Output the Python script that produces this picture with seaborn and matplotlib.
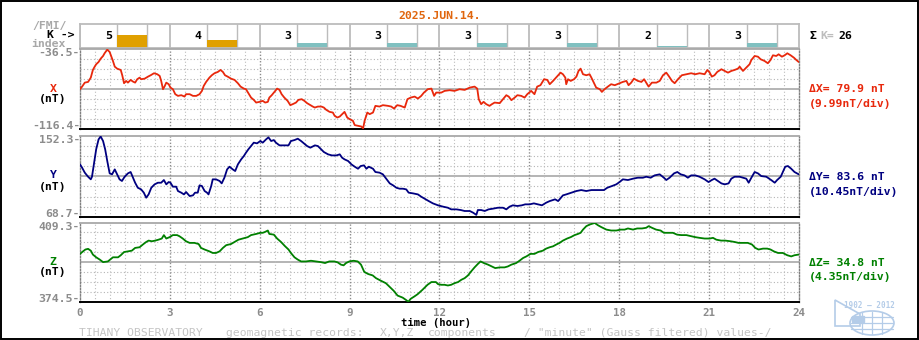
import numpy as np
import pandas as pd
import matplotlib
matplotlib.use("Agg")
import matplotlib.pyplot as plt
import seaborn as sns
from matplotlib import patches

# ---------------- data ----------------
K_VALUES = [5, 4, 3, 3, 3, 3, 2, 3]
K_SUM = 26
HOUR_TICKS = [0, 3, 6, 9, 12, 15, 18, 21, 24]

X_RANGE = (-116.4, -36.5)
Y_RANGE = (68.7, 152.3)
Z_RANGE = (374.5, 409.3)

X_HOURS = [0.00, 0.07, 0.16, 0.27, 0.36, 0.43, 0.49, 0.54, 0.62, 0.69,
           0.77, 0.82, 0.91, 0.99, 1.04, 1.10, 1.16, 1.24, 1.36, 1.41,
           1.47, 1.54, 1.60, 1.69, 1.77, 1.84, 1.91, 1.99, 2.04, 2.16,
           2.27, 2.36, 2.47, 2.58, 2.66, 2.71, 2.77, 2.82, 2.88, 2.96,
           3.02, 3.10, 3.18, 3.27, 3.38, 3.49, 3.54, 3.66, 3.77, 3.88,
           3.99, 4.07, 4.13, 4.21, 4.32, 4.40, 4.49, 4.60, 4.69, 4.77,
           4.84, 4.93, 5.04, 5.16, 5.27, 5.36, 5.47, 5.54, 5.62, 5.71,
           5.80, 5.88, 5.99, 6.10, 6.18, 6.27, 6.32, 6.40, 6.49, 6.58,
           6.66, 6.73, 6.82, 6.93, 7.02, 7.10, 7.21, 7.29, 7.40, 7.49,
           7.58, 7.69, 7.77, 7.84,
           7.94, 8.06, 8.14, 8.22, 8.33, 8.44, 8.50, 8.59, 8.67, 8.75,
           8.83, 8.92, 9.00, 9.11, 9.17, 9.28, 9.39, 9.45, 9.50, 9.59,
           9.67, 9.78, 9.86, 10.00, 10.11, 10.28, 10.39, 10.48, 10.59, 10.70,
           10.84, 10.93, 11.04, 11.17, 11.28, 11.39, 11.48, 11.61, 11.73, 11.82,
           11.89, 12.06, 12.17, 12.34, 12.50, 12.67, 12.84, 13.01, 13.17, 13.26,
           13.31, 13.39, 13.47, 13.56, 13.67, 13.75, 13.84, 14.01, 14.12, 14.23,
           14.31, 14.40, 14.51, 14.60, 14.73, 14.84, 14.93, 15.06, 15.17, 15.26,
           15.37, 15.49, 15.60, 15.68, 15.79, 15.86,
           15.96, 16.04, 16.12, 16.20, 16.23, 16.29, 16.38, 16.49, 16.57, 16.64,
           16.71, 16.79, 16.90, 17.01, 17.07, 17.16, 17.23, 17.35, 17.42, 17.51,
           17.62, 17.73, 17.85, 18.01, 18.12, 18.24, 18.31, 18.40, 18.49, 18.62,
           18.74, 18.83, 18.90, 18.98, 19.09, 19.24, 19.35, 19.46, 19.57, 19.65,
           19.76, 19.85, 19.96, 20.09, 20.24, 20.40, 20.54, 20.68, 20.85, 20.94,
           21.02, 21.09, 21.18, 21.27, 21.41, 21.52, 21.63, 21.74, 21.85, 21.96,
           22.02, 22.13, 22.24, 22.35, 22.41, 22.52, 22.63, 22.72, 22.85, 22.96,
           23.05, 23.13, 23.24, 23.32, 23.43, 23.52, 23.61, 23.72, 23.83, 23.91,
           23.99]
X_NT = [-76.5, -73.9, -69.9, -69.2, -64.9, -57.2, -53.9, -51.5, -49.2, -45.9,
        -43.2, -40.5, -36.8, -39.2, -43.2, -48.2, -53.9, -55.9, -57.2, -62.5,
        -70.5, -68.2, -69.9, -67.2, -68.9, -69.9, -66.5, -64.9, -66.5, -65.9,
        -63.9, -62.5, -60.5, -61.5, -63.2, -68.2, -76.5, -73.9, -69.9, -71.5,
        -74.9, -76.5, -81.5, -83.2, -82.5, -83.9, -81.5, -81.5, -83.2, -83.2,
        -81.5, -78.2, -73.2, -69.2, -64.9, -62.5, -60.5, -59.2, -57.2, -59.2,
        -62.5, -63.9, -65.9, -67.2, -70.5, -73.9, -75.9, -76.5, -80.5, -84.9,
        -87.2, -89.9, -89.2, -88.2, -89.9, -89.2, -84.9, -82.5, -79.2, -75.9,
        -77.2, -81.5, -84.9, -88.2, -92.5, -91.5, -89.9, -87.2, -86.5, -88.2,
        -90.5, -92.5, -93.9, -94.9,
        -93.9, -93.9, -94.9, -97.2, -99.2, -99.9, -103.2, -104.9, -103.9, -101.5,
        -99.2, -104.9, -106.5, -108.2, -112.5, -113.2, -113.9, -115.8, -108.2, -99.9,
        -101.5, -99.9, -93.2, -93.9, -92.5, -93.2, -93.9, -95.9, -92.5, -93.2,
        -94.9, -86.5, -84.9, -83.9, -85.9, -83.2, -79.9, -76.5, -75.9, -83.2,
        -79.9, -79.9, -78.2, -77.5, -78.2, -76.5, -77.2, -74.9, -73.9, -75.9,
        -86.5, -91.5, -89.2, -91.5, -93.2, -91.5, -89.9, -90.5, -86.5, -82.5,
        -83.9, -87.5, -84.9, -82.5, -83.2, -84.9, -81.5, -78.2, -81.5, -73.9,
        -72.5, -66.5, -67.2, -71.5, -68.2, -65.9,
        -62.5, -59.9, -61.5, -64.9, -71.5, -66.5, -68.2, -66.5, -63.9, -58.2,
        -55.9, -61.5, -62.5, -61.5, -64.9, -70.5, -74.9, -76.5, -79.2, -76.5,
        -73.9, -71.5, -72.5, -70.5, -69.2, -68.2, -72.5, -69.9, -65.9, -68.2,
        -69.2, -66.5, -69.9, -73.9, -69.9, -69.9, -68.2, -62.5, -59.9, -63.2,
        -68.2, -70.5, -66.5, -62.5, -61.5, -60.5, -61.5, -60.5, -61.5, -57.2,
        -59.9, -63.9, -62.5, -59.2, -56.5, -58.2, -59.9, -58.2, -57.2, -55.9,
        -53.9, -58.2, -54.9, -51.5, -47.2, -43.2, -43.9, -46.5, -48.2, -50.5,
        -47.2, -42.5, -43.2, -41.5, -43.9, -42.5, -40.5, -42.5, -44.9, -47.2,
        -49.2]

Y_HOURS = [0.00, 0.07, 0.16, 0.27, 0.36, 0.40, 0.47, 0.54, 0.62, 0.69,
           0.77, 0.84, 0.91, 0.99, 1.07, 1.16, 1.24, 1.32, 1.40, 1.49,
           1.60, 1.69, 1.77, 1.84, 1.93, 2.04, 2.13, 2.21, 2.29, 2.38,
           2.49, 2.60, 2.71, 2.80, 2.88, 2.96, 3.02, 3.10, 3.21, 3.27,
           3.38, 3.47, 3.54, 3.66, 3.77, 3.84, 3.93, 3.99, 4.07, 4.16,
           4.24, 4.29, 4.38, 4.43, 4.54, 4.66, 4.73, 4.82, 4.91, 4.99,
           5.10, 5.18, 5.27, 5.38, 5.47, 5.54, 5.62, 5.71, 5.80, 5.91,
           6.02, 6.10, 6.21, 6.29, 6.38, 6.47, 6.54, 6.66, 6.82, 6.96,
           7.04, 7.16, 7.27, 7.38, 7.47, 7.58, 7.69, 7.84,
           7.94, 8.03, 8.14, 8.28, 8.41, 8.56, 8.67, 8.75, 8.83, 8.95,
           9.06, 9.17, 9.28, 9.37, 9.48, 9.56, 9.64, 9.78, 9.86, 10.00,
           10.11, 10.22, 10.34, 10.45, 10.56, 10.67, 10.78, 10.89, 10.97, 11.11,
           11.28, 11.39, 11.50, 11.64, 11.78, 11.95, 12.12, 12.28, 12.39, 12.56,
           12.71, 12.84, 13.01, 13.12, 13.23, 13.28, 13.39, 13.51, 13.64, 13.78,
           13.95, 14.12, 14.23, 14.34, 14.45, 14.60, 14.75, 14.86, 15.01, 15.15,
           15.29, 15.42, 15.56, 15.68, 15.79, 15.86,
           15.96, 16.01, 16.12, 16.23, 16.40, 16.57, 16.73, 16.90, 17.07, 17.29,
           17.49, 17.60, 17.76, 17.90, 18.01, 18.12, 18.29, 18.46, 18.62, 18.79,
           18.90, 19.05, 19.18, 19.35, 19.49, 19.57, 19.68, 19.83, 19.94, 20.05,
           20.18, 20.29, 20.40, 20.54, 20.68, 20.85, 20.98, 21.09, 21.18, 21.29,
           21.41, 21.52, 21.65, 21.74, 21.85, 22.02, 22.13, 22.24, 22.32, 22.41,
           22.52, 22.63, 22.74, 22.91, 23.07, 23.19, 23.27, 23.39, 23.46, 23.54,
           23.63, 23.74, 23.85, 23.99]
Y_NT = [122.9, 119.5, 114.3, 110.1, 107.4, 110.1, 124.6, 138.5, 148.8, 151.8,
        147.1, 138.5, 126.4, 113.6, 112.6, 117.7, 112.6, 107.4, 105.7, 110.1,
        113.6, 115.0, 109.1, 103.9, 98.7, 97.0, 93.6, 88.4, 91.8, 98.7,
        102.2, 103.9, 103.9, 106.7, 102.2, 104.6, 103.9, 99.8, 99.8, 95.3,
        93.6, 91.8, 94.3, 90.1, 90.8, 93.6, 93.6, 101.2, 100.5, 95.3,
        93.6, 91.8, 100.5, 107.4, 107.4, 105.7, 103.2, 109.1, 117.7, 120.5,
        117.7, 116.0, 122.9, 128.1, 131.6, 135.0, 138.5, 141.9, 145.4, 144.7,
        147.1, 145.4, 148.8, 150.9, 147.1, 148.1, 145.4, 142.6, 142.6, 142.6,
        147.1, 148.1, 149.5, 147.1, 144.7, 141.9, 140.2, 142.6,
        141.9, 139.1, 135.7, 133.3, 132.2, 132.2, 133.3, 129.8, 128.1, 126.4,
        122.9, 120.5, 118.4, 121.2, 121.9, 118.4, 120.5, 118.4, 115.0, 114.3,
        112.6, 108.1, 103.2, 101.2, 98.7, 97.7, 97.7, 97.0, 93.6, 92.9,
        91.8, 89.4, 87.4, 84.9, 82.5, 80.5, 79.1, 78.0, 76.3, 76.3,
        75.6, 74.6, 74.6, 72.9, 70.6, 75.6, 75.6, 74.6, 76.3, 77.0,
        78.0, 78.0, 76.3, 79.1, 80.5, 79.8, 80.5, 81.5, 81.5, 82.5,
        81.5, 80.5, 83.2, 84.9, 86.0, 86.7,
        84.9, 86.7, 90.8, 91.8, 93.6, 95.3, 96.3, 95.3, 96.3, 96.3,
        96.3, 98.7, 100.5, 102.2, 104.6, 107.4, 106.7, 108.1, 109.1, 109.1,
        110.1, 109.1, 111.5, 112.6, 109.1, 106.7, 109.1, 113.6, 115.0, 112.6,
        111.5, 109.1, 111.5, 111.5, 110.1, 107.4, 104.6, 106.7, 108.1, 105.7,
        103.2, 102.2, 103.2, 108.1, 110.1, 110.1, 109.1, 108.1, 103.9, 109.1,
        115.0, 113.6, 110.8, 110.1, 106.7, 103.9, 106.7, 110.1, 115.0, 120.5,
        121.2, 118.4, 115.0, 112.6]

Z_HOURS = [0.00, 0.10, 0.18, 0.27, 0.36, 0.43, 0.54, 0.66, 0.77, 0.93,
           1.04, 1.10, 1.27, 1.36, 1.47, 1.60, 1.73, 1.84, 1.99, 2.10,
           2.21, 2.29, 2.40, 2.51, 2.62, 2.73, 2.80, 2.88, 2.99, 3.10,
           3.24, 3.32, 3.43, 3.54, 3.66, 3.82, 3.96, 4.04, 4.16, 4.32,
           4.43, 4.54, 4.66, 4.77, 4.88, 5.04, 5.16, 5.29, 5.43, 5.60,
           5.71, 5.88, 6.02, 6.10, 6.18, 6.27, 6.32, 6.47, 6.58, 6.71,
           6.84, 6.96, 7.04, 7.16, 7.27, 7.38, 7.54, 7.71, 7.88, 8.04,
           8.18, 8.32, 8.49, 8.60, 8.71, 8.80, 8.88, 8.99, 9.13, 9.27,
           9.38, 9.49, 9.62, 9.77, 9.88, 10.04, 10.21, 10.32, 10.47, 10.60,
           10.77, 10.88, 10.96, 11.04, 11.16, 11.27, 11.43, 11.60, 11.73, 11.88,
           11.95, 12.06, 12.17, 12.28, 12.39, 12.50, 12.62, 12.73, 12.84, 12.95,
           13.06, 13.17, 13.28, 13.37, 13.48, 13.62, 13.75, 13.86, 14.01, 14.17,
           14.28, 14.40, 14.56, 14.67, 14.79, 14.90, 15.04, 15.17, 15.29, 15.45,
           15.56, 15.68, 15.79, 15.90, 16.01, 16.12, 16.26, 16.38, 16.51, 16.62,
           16.71, 16.79, 16.90, 17.01, 17.18, 17.29, 17.40, 17.57, 17.73, 17.90,
           18.05, 18.18, 18.29, 18.46, 18.60, 18.76, 18.90, 18.98, 19.09, 19.23,
           19.38, 19.49, 19.62, 19.79, 19.93, 20.07, 20.24, 20.40, 20.54, 20.68,
           20.85, 21.02, 21.13, 21.24, 21.40, 21.54, 21.72, 21.85, 21.98, 22.13,
           22.29, 22.43, 22.54, 22.65, 22.80, 22.94, 23.05, 23.16, 23.30, 23.46,
           23.61, 23.74, 23.85, 23.99]
Z_NT = [395.6, 396.7, 397.5, 397.8, 397.0, 395.3, 394.1, 393.1, 392.0, 392.3,
        393.5, 394.1, 394.1, 395.0, 396.4, 396.7, 397.0, 398.2, 398.5, 399.7,
        400.8, 401.4, 401.1, 401.4, 401.8, 402.3, 403.8, 402.3, 402.9, 403.8,
        403.8, 403.3, 402.3, 401.1, 400.4, 400.4, 399.9, 398.2, 397.5, 396.7,
        396.0, 396.0, 396.7, 398.2, 399.4, 399.9, 400.8, 401.8, 402.3, 402.9,
        403.8, 404.3, 404.8, 404.8, 405.2, 405.8, 404.3, 404.0, 402.3, 400.8,
        399.0, 397.5, 396.0, 394.1, 393.1, 392.3, 392.3, 392.6, 392.3, 392.0,
        391.6, 392.3, 392.3, 391.9, 390.9, 390.6, 391.6, 392.3, 392.6, 392.3,
        390.9, 387.7, 386.8, 386.2, 385.0, 383.9, 382.8, 381.4, 379.5, 377.4,
        376.5, 375.5, 374.7, 376.0, 377.0, 378.0, 379.9, 382.1, 383.3, 383.3,
        382.4, 382.1, 382.1, 381.8, 382.1, 382.8, 383.3, 384.3, 385.0, 386.2,
        388.0, 389.7, 391.2, 392.3, 391.6, 390.9, 390.1, 389.4, 389.7, 389.7,
        390.1, 390.9, 391.6, 392.6, 393.8, 394.5, 395.6, 395.6, 396.4, 397.0,
        397.9, 398.5, 398.9, 399.7, 400.4, 401.4, 402.3, 402.9, 403.8, 404.3,
        404.8, 406.2, 407.7, 408.4, 409.1, 408.1, 407.3, 406.2, 405.8, 405.8,
        406.2, 406.2, 406.7, 406.2, 406.7, 406.7, 407.0, 407.7, 407.0, 406.2,
        405.8, 404.8, 404.8, 404.8, 404.0, 403.8, 403.8, 403.3, 402.9, 402.6,
        402.3, 402.3, 402.6, 401.8, 401.4, 401.4, 401.1, 400.8, 400.4, 400.4,
        400.4, 399.7, 398.2, 397.5, 397.9, 397.9, 397.5, 396.7, 396.0, 396.0,
        395.0, 394.5, 395.0, 395.3]

FOOTER_PARTS = ["TIHANY OBSERVATORY", "geomagnetic records:", "X,Y,Z", "components",
                '/ "minute" (Gauss filtered) values-/']

# ---------------- style ----------------
sns.set_style("white")
plt.rcParams["font.family"] = ["DejaVu Sans Mono", "DejaVu Sans"]
plt.rcParams["font.weight"] = "bold"

RED, NAVY, GREEN = "#e8280c", "#000080", "#008000"
GRID = "#b4b4b4"
TXTGRAY = "#8c8c8c"
FS = 8.25

W, H = 920, 340
fig = plt.figure(figsize=(9.2, 3.4), dpi=100)
fig.patch.set_facecolor("white")


def fx(x):
    return x / W


def fy(y):
    return 1 - y / H


def panel(top, bottom):
    return fig.add_axes([fx(80), fy(bottom), fx(799) - fx(80), (bottom - top) / H])


def ftext(x, y, s, **kw):
    kw.setdefault("fontsize", FS)
    kw.setdefault("va", "center")
    kw.setdefault("fontweight", "bold")
    fig.text(fx(x), fy(y), s, **kw)


# ---------------- K-index panel ----------------
axk = panel(24, 47.5)
axk.set_xlim(0, 24)
axk.set_yscale("function", functions=(lambda v: np.sign(v) * v ** 2,
                                      lambda v: np.sign(v) * np.sqrt(np.abs(v))))
axk.set_ylim(0, np.sqrt(47))
starts = np.arange(0, 24, 3)
for s in starts:
    for xv, lw in ((s, 1.3), (s + 1.25, 1.0), (s + 2.25, 1.0)):
        axk.axvline(xv, color="#bcbcbc", lw=lw, zorder=1)
kcolors = ["#e0a000" if k >= 4 else "#80c0c0" for k in K_VALUES]
axk.bar(starts + 1.75, K_VALUES, width=1.0, color=kcolors, zorder=2, linewidth=0)
for s, k in zip(starts, K_VALUES):
    axk.text(s + 0.95, 0.5, str(k), transform=axk.get_xaxis_transform(),
             ha="center", va="center", fontsize=FS, fontweight="bold", color="black")
axk.set_xticks([])
axk.set_yticks([])
axk.minorticks_off()
for sp in axk.spines.values():
    sp.set_color("#bcbcbc")
    sp.set_linewidth(1.3)


# ---------------- data panels ----------------
def data_panel(top, bottom, hours, vals, rng, color, lo_lbl, hi_lbl):
    ax = panel(top, bottom)
    lo, hi = rng
    ax.set_xlim(0, 24)
    ax.set_ylim(lo, hi)
    div = (hi - lo) / 8
    for k in range(1, 8):
        yv = lo + k * div
        if k == 4:
            ax.axhline(yv, color="#a8a8a8", lw=1.2, zorder=1)
        else:
            ax.axhline(yv, color=GRID, lw=0.8, ls=(0, (1, 2)), zorder=1)
    for h in np.arange(0.5, 24, 0.5):
        if abs(h % 3) < 1e-9:
            ax.axvline(h, color="#8c8c8c", lw=1.0, ls=(0, (1, 1.3)), zorder=1)
        else:
            ax.axvline(h, color="#bdbdbd", lw=0.8, ls=(0, (1, 2)), zorder=1)
    df = pd.DataFrame({"hour": hours, "nT": vals})
    sns.lineplot(data=df, x="hour", y="nT", ax=ax, color=color, lw=1.3,
                 estimator=None, sort=False, zorder=3)
    ax.set_xlabel("")
    ax.set_ylabel("")
    ax.set_xticks([])
    ax.set_yticks([])
    ax.spines["top"].set_color("#a8a8a8")
    ax.spines["top"].set_linewidth(1.3)
    ax.spines["bottom"].set_color("black")
    ax.spines["bottom"].set_linewidth(1.4)
    for side in ("left", "right"):
        ax.spines[side].set_color("#808080")
        ax.spines[side].set_linewidth(1.0)
        ax.spines[side].set_linestyle((0, (1, 1.3)))
    ax.annotate(hi_lbl, xy=(0, hi), xycoords=("axes fraction", "data"),
                xytext=(0, -3.0), textcoords="offset points", ha="right", va="center",
                fontsize=FS, fontweight="bold", color=TXTGRAY)
    ax.annotate(lo_lbl, xy=(0, lo), xycoords=("axes fraction", "data"),
                xytext=(0, 2.2), textcoords="offset points", ha="right", va="center",
                fontsize=FS, fontweight="bold", color=TXTGRAY)
    return ax


axx = data_panel(49.3, 129.0, X_HOURS, X_NT, X_RANGE, RED, "-116.4-", "-36.5-")
axy = data_panel(136.0, 216.7, Y_HOURS, Y_NT, Y_RANGE, NAVY, "68.7-", "152.3-")
axz = data_panel(222.5, 302.2, Z_HOURS, Z_NT, Z_RANGE, GREEN, "374.5-", "409.3-")

axz.set_xticks(HOUR_TICKS)
axz.set_xticklabels([str(h) for h in HOUR_TICKS], fontsize=7.8, fontweight="bold",
                    color=TXTGRAY)
axz.tick_params(axis="x", length=0, pad=4.5)

# ---------------- texts ----------------
ftext(440, 16, "2025.JUN.14.", ha="center", color="#e0660e")

ftext(32, 26, "/FMI/", ha="left", color="#a8a8a8")
ftext(47, 35, "K ->", ha="left", color="black")
ftext(31, 44, "index", ha="left", color="#a8a8a8")

ftext(810, 36, "\u03a3", ha="left", color="black")
ftext(820, 36, "K=", ha="left", color="#bdbdbd")
ftext(838, 36, str(K_SUM), ha="left", color="black")

for yy1, yy2, name, col in ((89.3, 99.3, "X", RED), (175.0, 186.7, "Y", NAVY),
                            (262.3, 272.3, "Z", GREEN)):
    ftext(53, yy1, name, ha="center", color=col)
    ftext(53, yy2, "(nT)", ha="center", color="black")

ftext(809, 89.3, "\u0394X= 79.9 nT", ha="left", color=RED)
ftext(809, 104.0, "(9.99nT/div)", ha="left", color=RED)
ftext(809, 176.7, "\u0394Y= 83.6 nT", ha="left", color=NAVY)
ftext(809, 191.7, "(10.45nT/div)", ha="left", color=NAVY)
ftext(809, 262.7, "\u0394Z= 34.8 nT", ha="left", color=GREEN)
ftext(809, 276.7, "(4.35nT/div)", ha="left", color=GREEN)

ftext(436, 323.2, "time (hour)", ha="center", color="black", fontsize=7.6)
for xpos, part in zip([79, 226, 380, 428, 524], FOOTER_PARTS):
    ftext(xpos, 332.6, part, ha="left", color="#c4c4c4", fontweight="normal",
          fontsize=8.2)

# ---------------- logo (decoration) ----------------
LB = "#b4cce8"
ftext(869, 305, "1902 \u2014 2012", ha="center", color=LB, fontsize=5.5)
fig.patches.append(patches.Ellipse((fx(872), fy(323)), 44 / W, 24 / H,
                                   transform=fig.transFigure, fill=False, ec=LB, lw=1.2))
for dy in (-6, 0, 6):
    fig.lines.append(plt.Line2D([fx(851), fx(893)], [fy(323 + dy)] * 2,
                                transform=fig.transFigure, color=LB, lw=0.9))
for dx in (-10, 0, 10):
    fig.lines.append(plt.Line2D([fx(872 + dx)] * 2, [fy(312), fy(334)],
                                transform=fig.transFigure, color=LB, lw=0.9))
fig.patches.append(patches.Polygon([(fx(835), fy(300)), (fx(860), fy(314)),
                                    (fx(860), fy(326)), (fx(835), fy(326))],
                                   closed=True, transform=fig.transFigure,
                                   fill=False, ec=LB, lw=1.2))
fig.patches.append(patches.Rectangle((fx(852), fy(322)), 12 / W, 6 / H,
                                     transform=fig.transFigure, color=LB))

# ---------------- outer border ----------------
fig.patches.append(patches.Rectangle((fx(1), fy(338.5)), fx(918) - fx(1), 337.5 / H,
                                     transform=fig.transFigure, fill=False,
                                     ec="black", lw=1.4))

fig.savefig("out.png", dpi=100, facecolor="white")
